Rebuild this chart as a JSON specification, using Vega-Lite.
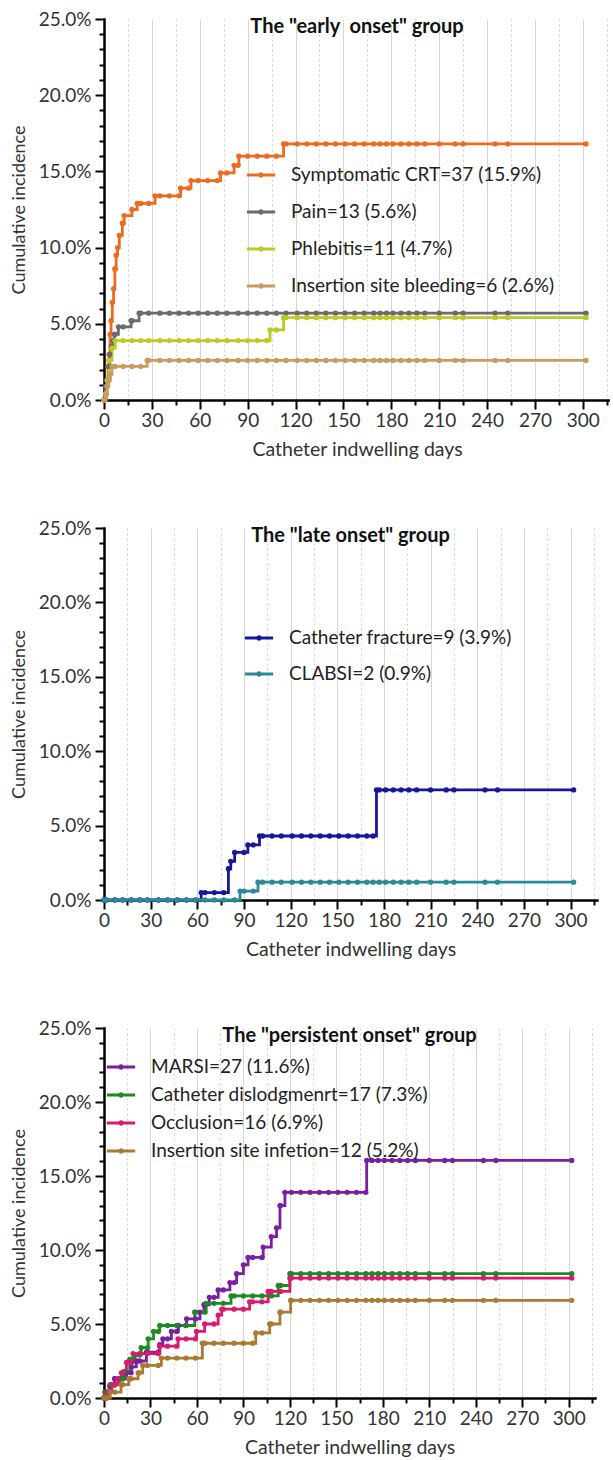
{
  "$schema": "https://vega.github.io/schema/vega-lite/v6.json",
  "background": "white",
  "padding": {"left": 10, "top": 10, "right": 0, "bottom": 5},
  "spacing": 60,
  "config": {
    "view": {"stroke": null},
    "font": "Lato",
    "axis": {
      "domainColor": "#000000", "domainWidth": 2.5, "domainCap": "square",
      "tickColor": "#000000", "tickWidth": 2, "tickSize": 9,
      "labelFont": "Lato", "labelFontSize": 19, "labelColor": "#333333", "labelFlush": false,
      "titleFont": "Lato", "titleFontSize": 18, "titleFontWeight": "normal", "titleColor": "#333333"
    },
    "legend": {
      "orient": "none", "title": null,
      "labelFont": "Lato", "labelFontSize": 19, "labelColor": "#222222", "labelLimit": 0,
      "symbolType": "M-1,0H1M-0.09,0A0.09,0.09,0,1,0,0.09,0A0.09,0.09,0,1,0,-0.09,0",
      "symbolSize": 800, "symbolStrokeWidth": 2.8, "labelOffset": 14, "rowPadding": 10
    },
    "title": {"font": "Lato", "fontSize": 20, "fontWeight": "bold", "color": "#111111", "anchor": "middle", "frame": "group", "offset": -27}
  },
  "datasets": {
    "labels": [
      {"s": "CRT", "label": "Symptomatic CRT=37 (15.9%)"},
      {"s": "Pain", "label": "Pain=13 (5.6%)"},
      {"s": "Phlebitis", "label": "Phlebitis=11 (4.7%)"},
      {"s": "Bleeding", "label": "Insertion site bleeding=6 (2.6%)"},
      {"s": "Fracture", "label": "Catheter fracture=9 (3.9%)"},
      {"s": "CLABSI", "label": "CLABSI=2 (0.9%)"},
      {"s": "MARSI", "label": "MARSI=27 (11.6%)"},
      {"s": "Dislodgment", "label": "Catheter dislodgmenrt=17 (7.3%)"},
      {"s": "Occlusion", "label": "Occlusion=16 (6.9%)"},
      {"s": "Infection", "label": "Insertion site infetion=12 (5.2%)"}
    ],
    "early": [
      {"s":"CRT","d":0,"v":0},{"s":"CRT","d":1.5,"v":0.9},{"s":"CRT","d":2.5,"v":2.2},{"s":"CRT","d":3.2,"v":3.0},{"s":"CRT","d":3.8,"v":4.3},{"s":"CRT","d":4.4,"v":5.2},{"s":"CRT","d":5.2,"v":6.4},{"s":"CRT","d":6,"v":7.3},{"s":"CRT","d":6.8,"v":8.6},{"s":"CRT","d":7,"v":8.6},{"s":"CRT","d":7.6,"v":9.5},{"s":"CRT","d":8.5,"v":10.0},{"s":"CRT","d":9.6,"v":10.8},{"s":"CRT","d":11.5,"v":11.6},{"s":"CRT","d":12,"v":11.6},{"s":"CRT","d":12.6,"v":12.1},{"s":"CRT","d":17.5,"v":12.5},{"s":"CRT","d":20.8,"v":12.9},{"s":"CRT","d":23,"v":12.9},{"s":"CRT","d":28,"v":12.9},{"s":"CRT","d":32,"v":13.4},{"s":"CRT","d":35,"v":13.4},{"s":"CRT","d":41,"v":13.4},{"s":"CRT","d":47,"v":13.4},{"s":"CRT","d":48,"v":13.9},{"s":"CRT","d":53,"v":13.9},{"s":"CRT","d":54.5,"v":14.4},{"s":"CRT","d":59,"v":14.4},{"s":"CRT","d":65,"v":14.4},{"s":"CRT","d":71,"v":14.4},{"s":"CRT","d":73,"v":14.9},{"s":"CRT","d":77,"v":14.9},{"s":"CRT","d":81.5,"v":15.4},{"s":"CRT","d":84,"v":15.4},{"s":"CRT","d":84.5,"v":16.0},{"s":"CRT","d":90,"v":16.0},{"s":"CRT","d":96,"v":16.0},{"s":"CRT","d":102,"v":16.0},{"s":"CRT","d":108,"v":16.0},{"s":"CRT","d":112.5,"v":16.8},{"s":"CRT","d":114,"v":16.8},
      {"s":"CRT","d":121,"v":16.8},{"s":"CRT","d":127,"v":16.8},{"s":"CRT","d":133,"v":16.8},{"s":"CRT","d":139,"v":16.8},{"s":"CRT","d":145,"v":16.8},{"s":"CRT","d":151,"v":16.8},{"s":"CRT","d":157,"v":16.8},{"s":"CRT","d":163,"v":16.8},{"s":"CRT","d":169,"v":16.8},{"s":"CRT","d":173,"v":16.8},{"s":"CRT","d":177,"v":16.8},{"s":"CRT","d":181,"v":16.8},{"s":"CRT","d":186,"v":16.8},{"s":"CRT","d":191,"v":16.8},{"s":"CRT","d":196,"v":16.8},{"s":"CRT","d":201,"v":16.8},{"s":"CRT","d":210,"v":16.8},{"s":"CRT","d":220,"v":16.8},{"s":"CRT","d":225,"v":16.8},{"s":"CRT","d":245,"v":16.8},{"s":"CRT","d":253,"v":16.8},{"s":"CRT","d":302,"v":16.8},

      {"s":"Pain","d":0,"v":0},{"s":"Pain","d":1,"v":0.9},{"s":"Pain","d":1.5,"v":0.9},{"s":"Pain","d":2,"v":1.3},{"s":"Pain","d":3,"v":2.2},{"s":"Pain","d":3.6,"v":3.0},{"s":"Pain","d":4.5,"v":3.5},{"s":"Pain","d":5.5,"v":3.9},{"s":"Pain","d":6.5,"v":4.3},{"s":"Pain","d":7,"v":4.3},{"s":"Pain","d":9,"v":4.8},{"s":"Pain","d":12,"v":4.8},{"s":"Pain","d":17,"v":5.2},{"s":"Pain","d":17.5,"v":5.2},{"s":"Pain","d":22,"v":5.7},{"s":"Pain","d":23,"v":5.7},{"s":"Pain","d":28,"v":5.7},
      {"s":"Pain","d":35,"v":5.7},{"s":"Pain","d":41,"v":5.7},{"s":"Pain","d":47,"v":5.7},{"s":"Pain","d":53,"v":5.7},{"s":"Pain","d":59,"v":5.7},{"s":"Pain","d":65,"v":5.7},{"s":"Pain","d":71,"v":5.7},{"s":"Pain","d":77,"v":5.7},{"s":"Pain","d":84,"v":5.7},{"s":"Pain","d":90,"v":5.7},{"s":"Pain","d":96,"v":5.7},{"s":"Pain","d":102,"v":5.7},{"s":"Pain","d":108,"v":5.7},{"s":"Pain","d":114,"v":5.7},
      {"s":"Pain","d":121,"v":5.7},{"s":"Pain","d":127,"v":5.7},{"s":"Pain","d":133,"v":5.7},{"s":"Pain","d":139,"v":5.7},{"s":"Pain","d":145,"v":5.7},{"s":"Pain","d":151,"v":5.7},{"s":"Pain","d":157,"v":5.7},{"s":"Pain","d":163,"v":5.7},{"s":"Pain","d":169,"v":5.7},{"s":"Pain","d":173,"v":5.7},{"s":"Pain","d":177,"v":5.7},{"s":"Pain","d":181,"v":5.7},{"s":"Pain","d":186,"v":5.7},{"s":"Pain","d":191,"v":5.7},{"s":"Pain","d":196,"v":5.7},{"s":"Pain","d":201,"v":5.7},{"s":"Pain","d":210,"v":5.7},{"s":"Pain","d":220,"v":5.7},{"s":"Pain","d":225,"v":5.7},{"s":"Pain","d":245,"v":5.7},{"s":"Pain","d":253,"v":5.7},{"s":"Pain","d":302,"v":5.7},

      {"s":"Phlebitis","d":0,"v":0},{"s":"Phlebitis","d":1,"v":0.4},{"s":"Phlebitis","d":1.5,"v":0.4},{"s":"Phlebitis","d":2,"v":1.3},{"s":"Phlebitis","d":3,"v":2.6},{"s":"Phlebitis","d":5,"v":3.4},{"s":"Phlebitis","d":7,"v":3.9},{"s":"Phlebitis","d":12,"v":3.9},{"s":"Phlebitis","d":17.5,"v":3.9},{"s":"Phlebitis","d":23,"v":3.9},{"s":"Phlebitis","d":28,"v":3.9},
      {"s":"Phlebitis","d":35,"v":3.9},{"s":"Phlebitis","d":41,"v":3.9},{"s":"Phlebitis","d":47,"v":3.9},{"s":"Phlebitis","d":53,"v":3.9},{"s":"Phlebitis","d":59,"v":3.9},{"s":"Phlebitis","d":65,"v":3.9},{"s":"Phlebitis","d":71,"v":3.9},{"s":"Phlebitis","d":77,"v":3.9},{"s":"Phlebitis","d":84,"v":3.9},{"s":"Phlebitis","d":90,"v":3.9},{"s":"Phlebitis","d":96,"v":3.9},{"s":"Phlebitis","d":102,"v":3.9},{"s":"Phlebitis","d":104,"v":4.6},{"s":"Phlebitis","d":108,"v":4.6},{"s":"Phlebitis","d":112.5,"v":5.4},{"s":"Phlebitis","d":114,"v":5.4},
      {"s":"Phlebitis","d":121,"v":5.4},{"s":"Phlebitis","d":127,"v":5.4},{"s":"Phlebitis","d":133,"v":5.4},{"s":"Phlebitis","d":139,"v":5.4},{"s":"Phlebitis","d":145,"v":5.4},{"s":"Phlebitis","d":151,"v":5.4},{"s":"Phlebitis","d":157,"v":5.4},{"s":"Phlebitis","d":163,"v":5.4},{"s":"Phlebitis","d":169,"v":5.4},{"s":"Phlebitis","d":173,"v":5.4},{"s":"Phlebitis","d":177,"v":5.4},{"s":"Phlebitis","d":181,"v":5.4},{"s":"Phlebitis","d":186,"v":5.4},{"s":"Phlebitis","d":191,"v":5.4},{"s":"Phlebitis","d":196,"v":5.4},{"s":"Phlebitis","d":201,"v":5.4},{"s":"Phlebitis","d":210,"v":5.4},{"s":"Phlebitis","d":220,"v":5.4},{"s":"Phlebitis","d":225,"v":5.4},{"s":"Phlebitis","d":245,"v":5.4},{"s":"Phlebitis","d":253,"v":5.4},{"s":"Phlebitis","d":302,"v":5.4},

      {"s":"Bleeding","d":0,"v":0},{"s":"Bleeding","d":1,"v":0.4},{"s":"Bleeding","d":1.5,"v":0.4},{"s":"Bleeding","d":2,"v":0.9},{"s":"Bleeding","d":3,"v":1.3},{"s":"Bleeding","d":4,"v":1.7},{"s":"Bleeding","d":5,"v":2.2},{"s":"Bleeding","d":7,"v":2.2},{"s":"Bleeding","d":12,"v":2.2},{"s":"Bleeding","d":17.5,"v":2.2},{"s":"Bleeding","d":23,"v":2.2},{"s":"Bleeding","d":27,"v":2.6},{"s":"Bleeding","d":28,"v":2.6},
      {"s":"Bleeding","d":35,"v":2.6},{"s":"Bleeding","d":41,"v":2.6},{"s":"Bleeding","d":47,"v":2.6},{"s":"Bleeding","d":53,"v":2.6},{"s":"Bleeding","d":59,"v":2.6},{"s":"Bleeding","d":65,"v":2.6},{"s":"Bleeding","d":71,"v":2.6},{"s":"Bleeding","d":77,"v":2.6},{"s":"Bleeding","d":84,"v":2.6},{"s":"Bleeding","d":90,"v":2.6},{"s":"Bleeding","d":96,"v":2.6},{"s":"Bleeding","d":102,"v":2.6},{"s":"Bleeding","d":108,"v":2.6},{"s":"Bleeding","d":114,"v":2.6},
      {"s":"Bleeding","d":121,"v":2.6},{"s":"Bleeding","d":127,"v":2.6},{"s":"Bleeding","d":133,"v":2.6},{"s":"Bleeding","d":139,"v":2.6},{"s":"Bleeding","d":145,"v":2.6},{"s":"Bleeding","d":151,"v":2.6},{"s":"Bleeding","d":157,"v":2.6},{"s":"Bleeding","d":163,"v":2.6},{"s":"Bleeding","d":169,"v":2.6},{"s":"Bleeding","d":173,"v":2.6},{"s":"Bleeding","d":177,"v":2.6},{"s":"Bleeding","d":181,"v":2.6},{"s":"Bleeding","d":186,"v":2.6},{"s":"Bleeding","d":191,"v":2.6},{"s":"Bleeding","d":196,"v":2.6},{"s":"Bleeding","d":201,"v":2.6},{"s":"Bleeding","d":210,"v":2.6},{"s":"Bleeding","d":220,"v":2.6},{"s":"Bleeding","d":225,"v":2.6},{"s":"Bleeding","d":245,"v":2.6},{"s":"Bleeding","d":253,"v":2.6},{"s":"Bleeding","d":302,"v":2.6}
    ],
    "late": [
      {"s":"Fracture","d":0,"v":0},{"s":"Fracture","d":1.5,"v":0},{"s":"Fracture","d":7,"v":0},{"s":"Fracture","d":12,"v":0},{"s":"Fracture","d":17.5,"v":0},{"s":"Fracture","d":23,"v":0},{"s":"Fracture","d":28,"v":0},{"s":"Fracture","d":35,"v":0},{"s":"Fracture","d":41,"v":0},{"s":"Fracture","d":47,"v":0},{"s":"Fracture","d":53,"v":0},{"s":"Fracture","d":59,"v":0},{"s":"Fracture","d":62.5,"v":0.5},{"s":"Fracture","d":65,"v":0.5},{"s":"Fracture","d":71,"v":0.5},{"s":"Fracture","d":77,"v":0.5},{"s":"Fracture","d":80,"v":2.1},{"s":"Fracture","d":81.5,"v":2.6},{"s":"Fracture","d":84,"v":3.2},{"s":"Fracture","d":90,"v":3.2},{"s":"Fracture","d":92.5,"v":3.7},{"s":"Fracture","d":96,"v":3.7},{"s":"Fracture","d":100,"v":4.3},{"s":"Fracture","d":102,"v":4.3},{"s":"Fracture","d":108,"v":4.3},{"s":"Fracture","d":114,"v":4.3},
      {"s":"Fracture","d":121,"v":4.3},{"s":"Fracture","d":127,"v":4.3},{"s":"Fracture","d":133,"v":4.3},{"s":"Fracture","d":139,"v":4.3},{"s":"Fracture","d":145,"v":4.3},{"s":"Fracture","d":151,"v":4.3},{"s":"Fracture","d":157,"v":4.3},{"s":"Fracture","d":163,"v":4.3},{"s":"Fracture","d":169,"v":4.3},{"s":"Fracture","d":173,"v":4.3},{"s":"Fracture","d":175.2,"v":7.4},{"s":"Fracture","d":177,"v":7.4},{"s":"Fracture","d":181,"v":7.4},{"s":"Fracture","d":186,"v":7.4},{"s":"Fracture","d":191,"v":7.4},{"s":"Fracture","d":196,"v":7.4},{"s":"Fracture","d":201,"v":7.4},{"s":"Fracture","d":210,"v":7.4},{"s":"Fracture","d":220,"v":7.4},{"s":"Fracture","d":225,"v":7.4},{"s":"Fracture","d":245,"v":7.4},{"s":"Fracture","d":253,"v":7.4},{"s":"Fracture","d":302,"v":7.4},

      {"s":"CLABSI","d":0,"v":0},{"s":"CLABSI","d":1.5,"v":0},{"s":"CLABSI","d":7,"v":0},{"s":"CLABSI","d":12,"v":0},{"s":"CLABSI","d":17.5,"v":0},{"s":"CLABSI","d":23,"v":0},{"s":"CLABSI","d":28,"v":0},{"s":"CLABSI","d":35,"v":0},{"s":"CLABSI","d":41,"v":0},{"s":"CLABSI","d":47,"v":0},{"s":"CLABSI","d":53,"v":0},{"s":"CLABSI","d":59,"v":0},{"s":"CLABSI","d":65,"v":0},{"s":"CLABSI","d":71,"v":0},{"s":"CLABSI","d":77,"v":0},{"s":"CLABSI","d":84,"v":0},{"s":"CLABSI","d":87.5,"v":0.6},{"s":"CLABSI","d":90,"v":0.6},{"s":"CLABSI","d":96,"v":0.6},{"s":"CLABSI","d":99,"v":1.2},{"s":"CLABSI","d":102,"v":1.2},{"s":"CLABSI","d":108,"v":1.2},{"s":"CLABSI","d":114,"v":1.2},
      {"s":"CLABSI","d":121,"v":1.2},{"s":"CLABSI","d":127,"v":1.2},{"s":"CLABSI","d":133,"v":1.2},{"s":"CLABSI","d":139,"v":1.2},{"s":"CLABSI","d":145,"v":1.2},{"s":"CLABSI","d":151,"v":1.2},{"s":"CLABSI","d":157,"v":1.2},{"s":"CLABSI","d":163,"v":1.2},{"s":"CLABSI","d":169,"v":1.2},{"s":"CLABSI","d":173,"v":1.2},{"s":"CLABSI","d":177,"v":1.2},{"s":"CLABSI","d":181,"v":1.2},{"s":"CLABSI","d":186,"v":1.2},{"s":"CLABSI","d":191,"v":1.2},{"s":"CLABSI","d":196,"v":1.2},{"s":"CLABSI","d":201,"v":1.2},{"s":"CLABSI","d":210,"v":1.2},{"s":"CLABSI","d":220,"v":1.2},{"s":"CLABSI","d":225,"v":1.2},{"s":"CLABSI","d":245,"v":1.2},{"s":"CLABSI","d":253,"v":1.2},{"s":"CLABSI","d":302,"v":1.2}
    ],
    "persistent": [
      {"s":"MARSI","d":0,"v":0},{"s":"MARSI","d":1.5,"v":0},{"s":"MARSI","d":2,"v":0.4},{"s":"MARSI","d":3.7,"v":0.8},{"s":"MARSI","d":6.9,"v":1.3},{"s":"MARSI","d":7,"v":1.3},{"s":"MARSI","d":12,"v":1.3},{"s":"MARSI","d":14.5,"v":1.7},{"s":"MARSI","d":17.5,"v":1.7},{"s":"MARSI","d":17.7,"v":2.1},{"s":"MARSI","d":20.9,"v":2.5},{"s":"MARSI","d":23,"v":2.5},{"s":"MARSI","d":27.4,"v":3.1},{"s":"MARSI","d":28,"v":3.1},{"s":"MARSI","d":35,"v":3.1},{"s":"MARSI","d":36,"v":3.6},{"s":"MARSI","d":38,"v":4.0},{"s":"MARSI","d":41,"v":4.0},{"s":"MARSI","d":43.5,"v":4.5},{"s":"MARSI","d":47,"v":4.5},{"s":"MARSI","d":48,"v":4.9},{"s":"MARSI","d":53,"v":4.9},{"s":"MARSI","d":53.3,"v":5.35},{"s":"MARSI","d":59,"v":5.35},{"s":"MARSI","d":62,"v":5.8},{"s":"MARSI","d":64.5,"v":6.3},{"s":"MARSI","d":65,"v":6.3},{"s":"MARSI","d":68,"v":6.8},{"s":"MARSI","d":71,"v":6.8},{"s":"MARSI","d":73.7,"v":7.3},{"s":"MARSI","d":77,"v":7.3},{"s":"MARSI","d":81.3,"v":7.8},{"s":"MARSI","d":84,"v":7.8},{"s":"MARSI","d":85.6,"v":8.4},{"s":"MARSI","d":90,"v":9.0},{"s":"MARSI","d":93,"v":9.5},{"s":"MARSI","d":96,"v":9.5},{"s":"MARSI","d":102,"v":9.5},{"s":"MARSI","d":102.8,"v":10.2},{"s":"MARSI","d":108,"v":10.9},{"s":"MARSI","d":111.4,"v":11.5},{"s":"MARSI","d":113.6,"v":13.0},{"s":"MARSI","d":114,"v":13.0},{"s":"MARSI","d":116.8,"v":13.9},
      {"s":"MARSI","d":121,"v":13.9},{"s":"MARSI","d":127,"v":13.9},{"s":"MARSI","d":133,"v":13.9},{"s":"MARSI","d":139,"v":13.9},{"s":"MARSI","d":145,"v":13.9},{"s":"MARSI","d":151,"v":13.9},{"s":"MARSI","d":157,"v":13.9},{"s":"MARSI","d":163,"v":13.9},{"s":"MARSI","d":169,"v":13.9},{"s":"MARSI","d":169.6,"v":16.05},{"s":"MARSI","d":173,"v":16.05},{"s":"MARSI","d":177,"v":16.05},{"s":"MARSI","d":181,"v":16.05},{"s":"MARSI","d":186,"v":16.05},{"s":"MARSI","d":191,"v":16.05},{"s":"MARSI","d":196,"v":16.05},{"s":"MARSI","d":201,"v":16.05},{"s":"MARSI","d":210,"v":16.05},{"s":"MARSI","d":220,"v":16.05},{"s":"MARSI","d":225,"v":16.05},{"s":"MARSI","d":245,"v":16.05},{"s":"MARSI","d":253,"v":16.05},{"s":"MARSI","d":302,"v":16.05},

      {"s":"Dislodgment","d":0,"v":0},{"s":"Dislodgment","d":0.5,"v":0.4},{"s":"Dislodgment","d":1.5,"v":0.4},{"s":"Dislodgment","d":4,"v":0.9},{"s":"Dislodgment","d":7,"v":0.9},{"s":"Dislodgment","d":10,"v":1.3},{"s":"Dislodgment","d":12,"v":1.3},{"s":"Dislodgment","d":13,"v":1.8},{"s":"Dislodgment","d":16.6,"v":2.6},{"s":"Dislodgment","d":17.5,"v":2.6},{"s":"Dislodgment","d":20,"v":2.9},{"s":"Dislodgment","d":23,"v":2.9},{"s":"Dislodgment","d":24,"v":3.4},{"s":"Dislodgment","d":28,"v":3.4},{"s":"Dislodgment","d":28.5,"v":4.0},{"s":"Dislodgment","d":32,"v":4.5},{"s":"Dislodgment","d":35,"v":4.5},{"s":"Dislodgment","d":36,"v":4.9},{"s":"Dislodgment","d":41,"v":4.9},{"s":"Dislodgment","d":47,"v":4.9},{"s":"Dislodgment","d":53,"v":4.9},{"s":"Dislodgment","d":58.6,"v":5.8},{"s":"Dislodgment","d":59,"v":5.8},{"s":"Dislodgment","d":65,"v":5.8},{"s":"Dislodgment","d":66,"v":6.4},{"s":"Dislodgment","d":71,"v":6.4},{"s":"Dislodgment","d":77,"v":6.4},{"s":"Dislodgment","d":82,"v":6.9},{"s":"Dislodgment","d":84,"v":6.9},{"s":"Dislodgment","d":90,"v":6.9},{"s":"Dislodgment","d":96,"v":6.9},{"s":"Dislodgment","d":102,"v":6.9},{"s":"Dislodgment","d":108,"v":6.9},{"s":"Dislodgment","d":112.5,"v":7.6},{"s":"Dislodgment","d":114,"v":7.6},{"s":"Dislodgment","d":120,"v":8.4},
      {"s":"Dislodgment","d":121,"v":8.4},{"s":"Dislodgment","d":127,"v":8.4},{"s":"Dislodgment","d":133,"v":8.4},{"s":"Dislodgment","d":139,"v":8.4},{"s":"Dislodgment","d":145,"v":8.4},{"s":"Dislodgment","d":151,"v":8.4},{"s":"Dislodgment","d":157,"v":8.4},{"s":"Dislodgment","d":163,"v":8.4},{"s":"Dislodgment","d":169,"v":8.4},{"s":"Dislodgment","d":173,"v":8.4},{"s":"Dislodgment","d":177,"v":8.4},{"s":"Dislodgment","d":181,"v":8.4},{"s":"Dislodgment","d":186,"v":8.4},{"s":"Dislodgment","d":191,"v":8.4},{"s":"Dislodgment","d":196,"v":8.4},{"s":"Dislodgment","d":201,"v":8.4},{"s":"Dislodgment","d":210,"v":8.4},{"s":"Dislodgment","d":220,"v":8.4},{"s":"Dislodgment","d":225,"v":8.4},{"s":"Dislodgment","d":245,"v":8.4},{"s":"Dislodgment","d":253,"v":8.4},{"s":"Dislodgment","d":302,"v":8.4},

      {"s":"Occlusion","d":0,"v":0},{"s":"Occlusion","d":1.5,"v":0},{"s":"Occlusion","d":2,"v":0.4},{"s":"Occlusion","d":5,"v":0.9},{"s":"Occlusion","d":7,"v":0.9},{"s":"Occlusion","d":9,"v":1.3},{"s":"Occlusion","d":11.2,"v":1.7},{"s":"Occlusion","d":12,"v":1.7},{"s":"Occlusion","d":14.5,"v":2.4},{"s":"Occlusion","d":17.5,"v":2.4},{"s":"Occlusion","d":18.8,"v":3.0},{"s":"Occlusion","d":23,"v":3.0},{"s":"Occlusion","d":28,"v":3.0},{"s":"Occlusion","d":35,"v":3.0},{"s":"Occlusion","d":36,"v":3.5},{"s":"Occlusion","d":41,"v":3.5},{"s":"Occlusion","d":47,"v":3.5},{"s":"Occlusion","d":47.8,"v":4.0},{"s":"Occlusion","d":53,"v":4.0},{"s":"Occlusion","d":59,"v":4.0},{"s":"Occlusion","d":59.7,"v":4.5},{"s":"Occlusion","d":65,"v":5.0},{"s":"Occlusion","d":71,"v":5.0},{"s":"Occlusion","d":73.7,"v":5.6},{"s":"Occlusion","d":76,"v":6.0},{"s":"Occlusion","d":77,"v":6.0},{"s":"Occlusion","d":84,"v":6.0},{"s":"Occlusion","d":90,"v":6.0},{"s":"Occlusion","d":94,"v":6.5},{"s":"Occlusion","d":96,"v":6.5},{"s":"Occlusion","d":102,"v":6.5},{"s":"Occlusion","d":106,"v":7.2},{"s":"Occlusion","d":108,"v":7.2},{"s":"Occlusion","d":114,"v":7.2},{"s":"Occlusion","d":120,"v":8.1},
      {"s":"Occlusion","d":121,"v":8.1},{"s":"Occlusion","d":127,"v":8.1},{"s":"Occlusion","d":133,"v":8.1},{"s":"Occlusion","d":139,"v":8.1},{"s":"Occlusion","d":145,"v":8.1},{"s":"Occlusion","d":151,"v":8.1},{"s":"Occlusion","d":157,"v":8.1},{"s":"Occlusion","d":163,"v":8.1},{"s":"Occlusion","d":169,"v":8.1},{"s":"Occlusion","d":173,"v":8.1},{"s":"Occlusion","d":177,"v":8.1},{"s":"Occlusion","d":181,"v":8.1},{"s":"Occlusion","d":186,"v":8.1},{"s":"Occlusion","d":191,"v":8.1},{"s":"Occlusion","d":196,"v":8.1},{"s":"Occlusion","d":201,"v":8.1},{"s":"Occlusion","d":210,"v":8.1},{"s":"Occlusion","d":220,"v":8.1},{"s":"Occlusion","d":225,"v":8.1},{"s":"Occlusion","d":245,"v":8.1},{"s":"Occlusion","d":253,"v":8.1},{"s":"Occlusion","d":302,"v":8.1},

      {"s":"Infection","d":0,"v":0},{"s":"Infection","d":1.5,"v":0},{"s":"Infection","d":4,"v":0.4},{"s":"Infection","d":7,"v":0.4},{"s":"Infection","d":11,"v":0.9},{"s":"Infection","d":12,"v":0.9},{"s":"Infection","d":16,"v":1.3},{"s":"Infection","d":17.5,"v":1.3},{"s":"Infection","d":22,"v":1.7},{"s":"Infection","d":23,"v":1.7},{"s":"Infection","d":25,"v":2.2},{"s":"Infection","d":28,"v":2.2},{"s":"Infection","d":35,"v":2.2},{"s":"Infection","d":37,"v":2.7},{"s":"Infection","d":41,"v":2.7},{"s":"Infection","d":47,"v":2.7},{"s":"Infection","d":53,"v":2.7},{"s":"Infection","d":59,"v":2.7},{"s":"Infection","d":63.5,"v":3.7},{"s":"Infection","d":65,"v":3.7},{"s":"Infection","d":71,"v":3.7},{"s":"Infection","d":77,"v":3.7},{"s":"Infection","d":84,"v":3.7},{"s":"Infection","d":90,"v":3.7},{"s":"Infection","d":96,"v":3.7},{"s":"Infection","d":98,"v":4.4},{"s":"Infection","d":102,"v":4.4},{"s":"Infection","d":107,"v":5.0},{"s":"Infection","d":108,"v":5.0},{"s":"Infection","d":113.6,"v":5.8},{"s":"Infection","d":114,"v":5.8},{"s":"Infection","d":120.5,"v":6.6},
      {"s":"Infection","d":121,"v":6.6},{"s":"Infection","d":127,"v":6.6},{"s":"Infection","d":133,"v":6.6},{"s":"Infection","d":139,"v":6.6},{"s":"Infection","d":145,"v":6.6},{"s":"Infection","d":151,"v":6.6},{"s":"Infection","d":157,"v":6.6},{"s":"Infection","d":163,"v":6.6},{"s":"Infection","d":169,"v":6.6},{"s":"Infection","d":173,"v":6.6},{"s":"Infection","d":177,"v":6.6},{"s":"Infection","d":181,"v":6.6},{"s":"Infection","d":186,"v":6.6},{"s":"Infection","d":191,"v":6.6},{"s":"Infection","d":196,"v":6.6},{"s":"Infection","d":201,"v":6.6},{"s":"Infection","d":210,"v":6.6},{"s":"Infection","d":220,"v":6.6},{"s":"Infection","d":225,"v":6.6},{"s":"Infection","d":245,"v":6.6},{"s":"Infection","d":253,"v":6.6},{"s":"Infection","d":302,"v":6.6}
    ]
  },
  "vconcat": [
    {
      "title": {"text": "The \"early\u00a0 onset\" group"},
      "width": 506, "height": 381,
      "data": {"name": "early"},
      "transform": [{"lookup": "s", "from": {"data": {"name": "labels"}, "key": "s", "fields": ["label"]}}],
      "layer": [
        {
          "mark": {"type": "line", "interpolate": "step-after", "strokeWidth": 2.8},
          "encoding": {
            "x": {"field": "d", "type": "quantitative", "scale": {"domain": [0, 317], "nice": false},
                  "axis": {"orient": "bottom", "values": [0,30,60,90,120,150,180,210,240,270,300], "grid": true, "gridColor": "#d6d6d6", "gridWidth": 1, "labelPadding": 2, "title": "Catheter indwelling days", "titleFontSize": 19.5, "titlePadding": 10}},
            "y": {"field": "v", "type": "quantitative", "scale": {"domain": [0, 25], "nice": false},
                  "axis": {"orient": "left", "values": [0,5,10,15,20,25], "labelExpr": "format(datum.value, '.1f') + '%'", "grid": false, "labelPadding": 4, "title": "Cumulative incidence", "titlePadding": 10}},
            "color": {"field": "label", "type": "nominal",
                      "scale": {"domain": ["Symptomatic CRT=37 (15.9%)", "Pain=13 (5.6%)", "Phlebitis=11 (4.7%)", "Insertion site bleeding=6 (2.6%)"], "range": ["#EE6A1F", "#6B6B6B", "#BDCA25", "#C99A62"]},
                      "legend": {"legendX": 141, "legendY": 140, "rowPadding": 11}}
          }
        },
        {
          "mark": {"type": "point", "filled": true, "size": 28, "opacity": 1},
          "encoding": {
            "x": {"field": "d", "type": "quantitative",
                  "axis": {"orient": "bottom", "values": [15,45,75,105,135,165,195,225,255,285,315], "grid": true, "gridColor": "#cfcfcf", "gridDash": [2, 3], "gridWidth": 1, "tickSize": 5, "labels": false, "domain": false, "title": null}},
            "y": {"field": "v", "type": "quantitative",
                  "axis": {"orient": "left", "values": [1,2,3,4,6,7,8,9,11,12,13,14,16,17,18,19,21,22,23,24], "grid": false, "tickSize": 5, "labels": false, "domain": false, "title": null}},
            "color": {"field": "label", "type": "nominal", "legend": null}
          }
        }
      ],
      "resolve": {"axis": {"x": "independent", "y": "independent"}}
    },
    {
      "title": {"text": "The \"late onset\" group"},
      "width": 493, "height": 372,
      "data": {"name": "late"},
      "transform": [{"lookup": "s", "from": {"data": {"name": "labels"}, "key": "s", "fields": ["label"]}}],
      "layer": [
        {
          "mark": {"type": "line", "interpolate": "step-after", "strokeWidth": 2.8},
          "encoding": {
            "x": {"field": "d", "type": "quantitative", "scale": {"domain": [0, 317], "nice": false},
                  "axis": {"orient": "bottom", "values": [0,30,60,90,120,150,180,210,240,270,300], "grid": true, "gridColor": "#d6d6d6", "gridWidth": 1, "labelPadding": 2, "title": "Catheter indwelling days", "titleFontSize": 19.5, "titlePadding": 10}},
            "y": {"field": "v", "type": "quantitative", "scale": {"domain": [0, 25], "nice": false},
                  "axis": {"orient": "left", "values": [0,5,10,15,20,25], "labelExpr": "format(datum.value, '.1f') + '%'", "grid": false, "labelPadding": 4, "title": "Cumulative incidence", "titlePadding": 10}},
            "color": {"field": "label", "type": "nominal",
                      "scale": {"domain": ["Catheter fracture=9 (3.9%)", "CLABSI=2 (0.9%)"], "range": ["#16169E", "#2A8A98"]},
                      "legend": {"legendX": 139, "legendY": 94}}
          }
        },
        {
          "mark": {"type": "point", "filled": true, "size": 28, "opacity": 1},
          "encoding": {
            "x": {"field": "d", "type": "quantitative",
                  "axis": {"orient": "bottom", "values": [15,45,75,105,135,165,195,225,255,285,315], "grid": true, "gridColor": "#cfcfcf", "gridDash": [2, 3], "gridWidth": 1, "tickSize": 5, "labels": false, "domain": false, "title": null}},
            "y": {"field": "v", "type": "quantitative",
                  "axis": {"orient": "left", "values": [1,2,3,4,6,7,8,9,11,12,13,14,16,17,18,19,21,22,23,24], "grid": false, "tickSize": 5, "labels": false, "domain": false, "title": null}},
            "color": {"field": "label", "type": "nominal", "legend": null}
          }
        }
      ],
      "resolve": {"axis": {"x": "independent", "y": "independent"}}
    },
    {
      "title": {"text": "The \"persistent onset\" group"},
      "width": 491, "height": 370,
      "data": {"name": "persistent"},
      "transform": [{"lookup": "s", "from": {"data": {"name": "labels"}, "key": "s", "fields": ["label"]}}],
      "layer": [
        {
          "mark": {"type": "line", "interpolate": "step-after", "strokeWidth": 2.8},
          "encoding": {
            "x": {"field": "d", "type": "quantitative", "scale": {"domain": [0, 317], "nice": false},
                  "axis": {"orient": "bottom", "values": [0,30,60,90,120,150,180,210,240,270,300], "grid": true, "gridColor": "#d6d6d6", "gridWidth": 1, "labelPadding": 2, "title": "Catheter indwelling days", "titleFontSize": 19.5, "titlePadding": 10}},
            "y": {"field": "v", "type": "quantitative", "scale": {"domain": [0, 25], "nice": false},
                  "axis": {"orient": "left", "values": [0,5,10,15,20,25], "labelExpr": "format(datum.value, '.1f') + '%'", "grid": false, "labelPadding": 4, "title": "Cumulative incidence", "titlePadding": 10}},
            "color": {"field": "label", "type": "nominal",
                      "scale": {"domain": ["MARSI=27 (11.6%)", "Catheter dislodgmenrt=17 (7.3%)", "Occlusion=16 (6.9%)", "Insertion site infetion=12 (5.2%)"], "range": ["#7B1FA2", "#1F8A24", "#D81B6E", "#A87A32"]},
                      "legend": {"legendX": 1, "legendY": 23, "rowPadding": 2}}
          }
        },
        {
          "mark": {"type": "point", "filled": true, "size": 28, "opacity": 1},
          "encoding": {
            "x": {"field": "d", "type": "quantitative",
                  "axis": {"orient": "bottom", "values": [15,45,75,105,135,165,195,225,255,285,315], "grid": true, "gridColor": "#cfcfcf", "gridDash": [2, 3], "gridWidth": 1, "tickSize": 5, "labels": false, "domain": false, "title": null}},
            "y": {"field": "v", "type": "quantitative",
                  "axis": {"orient": "left", "values": [1,2,3,4,6,7,8,9,11,12,13,14,16,17,18,19,21,22,23,24], "grid": false, "tickSize": 5, "labels": false, "domain": false, "title": null}},
            "color": {"field": "label", "type": "nominal", "legend": null}
          }
        }
      ],
      "resolve": {"axis": {"x": "independent", "y": "independent"}}
    }
  ],
  "resolve": {"scale": {"color": "independent"}, "legend": {"color": "independent"}}
}
